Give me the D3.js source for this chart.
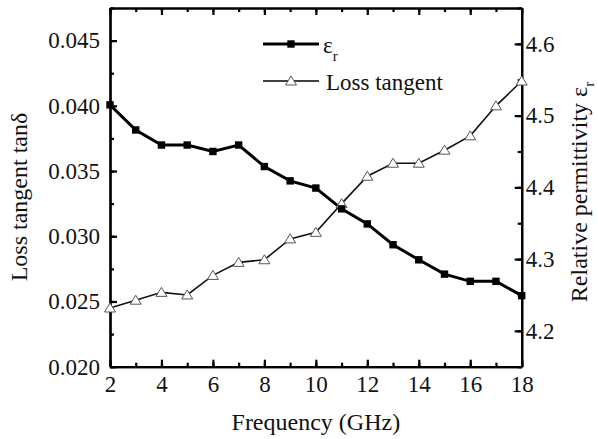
<!DOCTYPE html>
<html>
<head>
<meta charset="utf-8">
<script src="https://cdn.jsdelivr.net/npm/d3@7"></script>
</head>
<body style="margin:0">
<script>
// data
var frequency = [2, 3, 4, 5, 6, 7, 8, 9, 10, 11, 12, 13, 14, 15, 16, 17, 18];
var permittivity = [4.515, 4.480, 4.459, 4.459, 4.450, 4.459, 4.429, 4.409, 4.399, 4.370, 4.349, 4.320, 4.299, 4.279, 4.269, 4.269, 4.249];
var lossTangent = [0.0245, 0.0251, 0.0257, 0.0255, 0.0270, 0.0280, 0.0282, 0.0298, 0.0303, 0.0325, 0.0346, 0.0356, 0.0356, 0.0366, 0.0377, 0.0400, 0.0419];

var xTicks = [2, 4, 6, 8, 10, 12, 14, 16, 18];
var leftTicks = [0.020, 0.025, 0.030, 0.035, 0.040, 0.045];
var rightTicks = [4.2, 4.3, 4.4, 4.5, 4.6];
var legendNames = ["εr", "Loss tangent"];

var fontName = "'Liberation Serif'";

var width = 598, height = 439;
var margin = {top: 8, right: 76.3, bottom: 72.3, left: 110};
var w = width - margin.left - margin.right;
var h = height - margin.top - margin.bottom;

var svg = d3.select("body")
    .append("svg")
    .attr("width", width)
    .attr("height", height);

var g = svg.append("g")
    .attr("transform", "translate(" + margin.left + "," + margin.top + ")");

var x = d3.scaleLinear().domain([2, 18]).range([0, w]);
var yLeft = d3.scaleLinear().domain([0.020, 0.0475]).range([h, 0]);
var yRight = d3.scaleLinear().domain([4.15, 4.65]).range([h, 0]);

var fs = 23;

function setFont(sel, size) {
    sel.attr("font-family", "Liberation Serif")
        .style("font-family", fontName)
        .style("font-size", size + "px")
        .attr("fill", "#111");
}

function styleAxis(sel) {
    sel.attr("font-family", "Liberation Serif").attr("font-size", fs);
    sel.select(".domain").attr("stroke", "#000").attr("stroke-width", 2.2);
    sel.selectAll(".tick line").attr("stroke", "#000").attr("stroke-width", 2.2);
    sel.selectAll("text").call(setFont, fs);
}

// minor ticks first, majors on top
var xMinor = d3.range(2, 19, 1);
var leftMinor = d3.range(0, 12).map(function(i) { return 0.020 + i * 0.0025; });
var rightMinor = d3.range(0, 11).map(function(i) { return 4.15 + i * 0.05; });

g.append("g").attr("transform", "translate(0," + h + ")")
    .call(d3.axisBottom(x).tickValues(xMinor).tickSize(-4).tickSizeOuter(0).tickFormat(""))
    .call(styleAxis);
g.append("g")
    .call(d3.axisTop(x).tickValues(xMinor).tickSize(-4).tickSizeOuter(0).tickFormat(""))
    .call(styleAxis);
g.append("g")
    .call(d3.axisLeft(yLeft).tickValues(leftMinor).tickSize(-4).tickSizeOuter(0).tickFormat(""))
    .call(styleAxis);
g.append("g").attr("transform", "translate(" + w + ",0)")
    .call(d3.axisRight(yRight).tickValues(rightMinor).tickSize(-4).tickSizeOuter(0).tickFormat(""))
    .call(styleAxis);

g.append("g").attr("transform", "translate(0," + h + ")")
    .call(d3.axisBottom(x).tickValues(xTicks).tickSize(-7).tickSizeOuter(0).tickPadding(9).tickFormat(d3.format("d")))
    .call(styleAxis);
g.append("g")
    .call(d3.axisTop(x).tickValues(xTicks).tickSize(-7).tickSizeOuter(0).tickFormat(""))
    .call(styleAxis);
g.append("g")
    .call(d3.axisLeft(yLeft).tickValues(leftTicks).tickSize(-7).tickSizeOuter(0).tickPadding(10).tickFormat(d3.format(".3f")))
    .call(styleAxis);
g.append("g").attr("transform", "translate(" + w + ",0)")
    .call(d3.axisRight(yRight).tickValues(rightTicks).tickSize(-7).tickSizeOuter(0).tickPadding(4).tickFormat(d3.format(".1f")))
    .call(styleAxis);

// series
var permData = frequency.map(function(f, i) { return {x: f, y: permittivity[i]}; });
var lossData = frequency.map(function(f, i) { return {x: f, y: lossTangent[i]}; });

var triPath = "M0,-5L5.5,4L-5.5,4Z";

g.append("path")
    .datum(lossData)
    .attr("fill", "none")
    .attr("stroke", "#111")
    .attr("stroke-width", 1.6)
    .attr("d", d3.line().x(function(d) { return x(d.x); }).y(function(d) { return yLeft(d.y); }));

g.append("path")
    .datum(permData)
    .attr("fill", "none")
    .attr("stroke", "#000")
    .attr("stroke-width", 3)
    .attr("d", d3.line().x(function(d) { return x(d.x); }).y(function(d) { return yRight(d.y); }));

g.selectAll(".tri")
    .data(lossData)
    .enter()
    .append("path")
    .attr("class", "tri")
    .attr("d", triPath)
    .attr("transform", function(d) { return "translate(" + x(d.x) + "," + yLeft(d.y) + ")"; })
    .attr("fill", "#fff")
    .attr("stroke", "#555")
    .attr("stroke-width", 1);

g.selectAll(".sq")
    .data(permData)
    .enter()
    .append("rect")
    .attr("class", "sq")
    .attr("x", function(d) { return x(d.x) - 3.7; })
    .attr("y", function(d) { return yRight(d.y) - 3.7; })
    .attr("width", 7.4)
    .attr("height", 7.4)
    .attr("fill", "#000");

// legend
var legend = svg.append("g").attr("transform", "translate(263,44)");
var rows = legend.selectAll("g")
    .data(legendNames)
    .enter()
    .append("g")
    .attr("transform", function(d, i) { return "translate(0," + i * 37 + ")"; });

rows.append("line")
    .attr("x1", 0).attr("x2", 56)
    .attr("y1", 0).attr("y2", 0)
    .attr("stroke", "#000")
    .attr("stroke-width", function(d, i) { return i === 0 ? 3 : 1.6; });

rows.filter(function(d, i) { return i === 0; })
    .append("rect")
    .attr("x", 24.3).attr("y", -3.7)
    .attr("width", 7.4).attr("height", 7.4)
    .attr("fill", "#000");

rows.filter(function(d, i) { return i === 1; })
    .append("path")
    .attr("d", triPath)
    .attr("transform", "translate(28,0)")
    .attr("fill", "#fff")
    .attr("stroke", "#555");

var t0 = rows.filter(function(d, i) { return i === 0; })
    .append("text")
    .attr("x", 60).attr("y", 9)
    .call(setFont, fs);
t0.append("tspan").text("ε");
t0.append("tspan").style("font-size", "15px").attr("dy", 8).text("r");

rows.filter(function(d, i) { return i === 1; })
    .append("text")
    .attr("x", 63).attr("y", 9)
    .call(setFont, fs)
    .text(function(d) { return d; });

// axis titles
svg.append("text")
    .attr("x", margin.left + w / 2)
    .attr("y", 430)
    .attr("text-anchor", "middle")
    .call(setFont, 24)
    .text("Frequency (GHz)");

svg.append("text")
    .attr("transform", "translate(27,197) rotate(-90)")
    .attr("text-anchor", "middle")
    .call(setFont, 24)
    .text("Loss tangent tanδ");

var rt = svg.append("text")
    .attr("transform", "translate(587,192) rotate(-90)")
    .attr("text-anchor", "middle")
    .call(setFont, 24);
rt.append("tspan").text("Relative permittivity ε");
rt.append("tspan").style("font-size", "15px").attr("dy", 7).text("r");
</script>
</body>
</html>
